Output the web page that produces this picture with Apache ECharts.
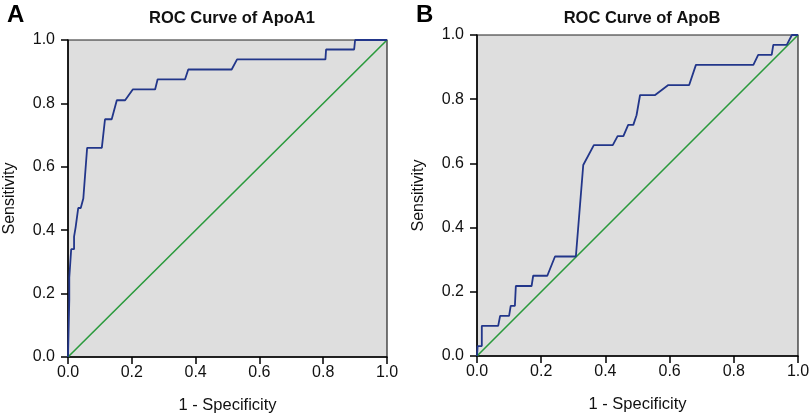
<!DOCTYPE html>
<html>
<head>
<meta charset="utf-8">
<script src="https://cdn.jsdelivr.net/npm/echarts@6/dist/echarts.min.js"></script>
<style>
  html, body { margin: 0; padding: 0; background: #fff; }
  #chart { width: 810px; height: 416px; }
</style>
</head>
<body>
<div id="chart"></div>
<script>
// ROC curve points: [1 - specificity, sensitivity]
const rocApoA1 = [
  [0, 0], [0.004, 0.18], [0.004, 0.25], [0.01, 0.25], [0.01, 0.34], [0.019, 0.34],
  [0.019, 0.38], [0.024, 0.38], [0.024, 0.41], [0.029, 0.41], [0.032, 0.47],
  [0.04, 0.47], [0.048, 0.5], [0.06, 0.66], [0.106, 0.66], [0.116, 0.75],
  [0.137, 0.75], [0.153, 0.81], [0.179, 0.81], [0.203, 0.844], [0.273, 0.844],
  [0.281, 0.876], [0.367, 0.876], [0.377, 0.907], [0.513, 0.907], [0.53, 0.939],
  [0.807, 0.939], [0.809, 0.97], [0.897, 0.97], [0.9, 1.0], [1.0, 1.0]
];
const rocApoB = [
  [0, 0], [0.002, 0.031], [0.015, 0.031], [0.015, 0.094], [0.066, 0.094],
  [0.072, 0.125], [0.1, 0.125], [0.105, 0.156], [0.118, 0.156], [0.121, 0.218],
  [0.17, 0.218], [0.175, 0.25], [0.219, 0.25], [0.243, 0.31], [0.308, 0.31],
  [0.331, 0.595], [0.364, 0.657], [0.423, 0.657], [0.438, 0.685], [0.456, 0.685],
  [0.471, 0.72], [0.487, 0.72], [0.497, 0.75], [0.508, 0.813], [0.555, 0.813],
  [0.596, 0.844], [0.661, 0.844], [0.682, 0.907], [0.861, 0.907], [0.876, 0.938],
  [0.918, 0.938], [0.923, 0.969], [0.965, 0.969], [0.981, 1.0], [1.0, 1.0]
];
const referenceLine = [[0, 0], [1, 1]];
const panelTitles = ['ROC Curve of ApoA1', 'ROC Curve of ApoB'];
const panelLetters = ['A', 'B'];

const chart = echarts.init(document.getElementById('chart'));
const font = 'Liberation Sans, Arial, sans-serif';

function xAxisFor(idx) {
  return {
    type: 'value', gridIndex: idx, min: 0, max: 1, interval: 0.2,
    name: '1 - Specificity', nameLocation: 'middle', nameGap: 40,
    nameTextStyle: { fontFamily: font, fontSize: 16.5, color: '#111' },
    axisLine: { show: true, lineStyle: { color: '#000', width: 1.5 } },
    axisTick: { show: true, inside: false, length: 7, lineStyle: { color: '#000', width: 1.5 } },
    axisLabel: { fontFamily: font, fontSize: 16, color: '#111', margin: 8,
      formatter: v => v.toFixed(1) },
    splitLine: { show: false }
  };
}
function yAxisFor(idx) {
  return {
    type: 'value', gridIndex: idx, min: 0, max: 1, interval: 0.2,
    name: 'Sensitivity', nameLocation: 'middle', nameGap: 50,
    nameTextStyle: { fontFamily: font, fontSize: 16, color: '#111' },
    axisLine: { show: true, lineStyle: { color: '#000', width: 1.5 } },
    axisTick: { show: true, inside: false, length: 7, lineStyle: { color: '#000', width: 1.5 } },
    axisLabel: { fontFamily: font, fontSize: 16, color: '#111', margin: 13,
      formatter: v => v.toFixed(1) },
    splitLine: { show: false }
  };
}

chart.setOption({
  animation: false,
  title: [
    { text: panelLetters[0], left: 2, top: -2, textStyle: { fontFamily: font, fontSize: 24, fontWeight: 'bold', color: '#000' } },
    { text: panelLetters[1], left: 411, top: -2, textStyle: { fontFamily: font, fontSize: 24, fontWeight: 'bold', color: '#000' } },
    { text: panelTitles[0], left: 227, top: 5, textAlign: 'center', textStyle: { fontFamily: font, fontSize: 16.5, fontWeight: 'bold', color: '#111' } },
    { text: panelTitles[1], left: 637, top: 5, textAlign: 'center', textStyle: { fontFamily: font, fontSize: 16.5, fontWeight: 'bold', color: '#111' } }
  ],
  grid: [
    { left: 68, right: 423, top: 40, bottom: 59, show: true, outerBoundsMode: 'none', containLabel: false,
      backgroundColor: '#dedede', borderColor: '#222', borderWidth: 1.2 },
    { left: 477, right: 12, top: 35, bottom: 60, show: true, outerBoundsMode: 'none', containLabel: false,
      backgroundColor: '#dedede', borderColor: '#222', borderWidth: 1.2 }
  ],
  xAxis: [xAxisFor(0), xAxisFor(1)],
  yAxis: [yAxisFor(0), yAxisFor(1)],
  series: [
    { type: 'line', xAxisIndex: 0, yAxisIndex: 0, data: referenceLine, symbol: 'none',
      lineStyle: { color: '#2a9a3c', width: 1.6 } },
    { type: 'line', xAxisIndex: 0, yAxisIndex: 0, data: rocApoA1, symbol: 'none',
      lineStyle: { color: '#22368a', width: 1.8 } },
    { type: 'line', xAxisIndex: 1, yAxisIndex: 1, data: referenceLine, symbol: 'none',
      lineStyle: { color: '#2a9a3c', width: 1.6 } },
    { type: 'line', xAxisIndex: 1, yAxisIndex: 1, data: rocApoB, symbol: 'none',
      lineStyle: { color: '#22368a', width: 1.8 } }
  ]
});
</script>
</body>
</html>
